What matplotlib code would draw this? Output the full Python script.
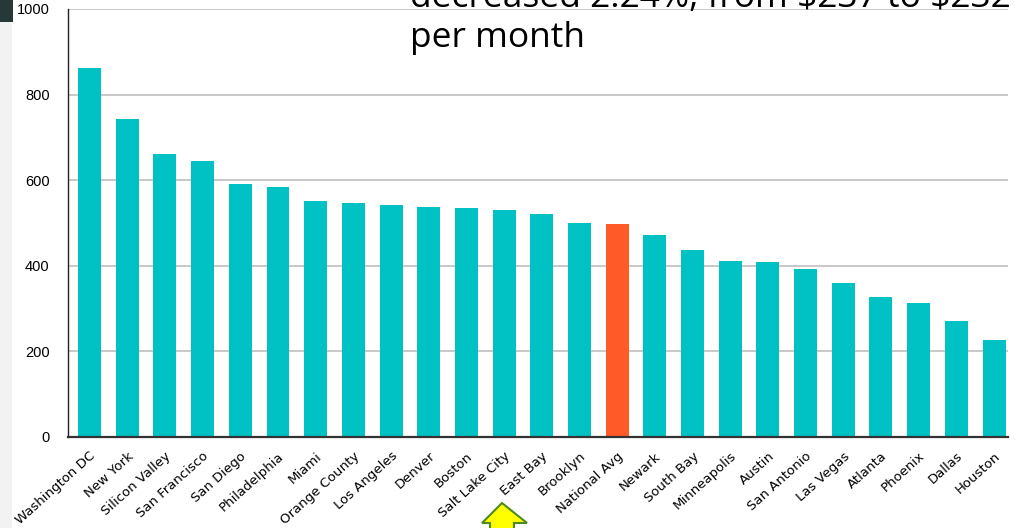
import matplotlib.pyplot as plt
from matplotlib.patches import Polygon, Rectangle

# rent by metro area
cities = ["Washington DC", "New York", "Silicon Valley", "San Francisco", "San Diego",
          "Philadelphia", "Miami", "Orange County", "Los Angeles", "Denver", "Boston",
          "Salt Lake City", "East Bay", "Brooklyn", "National Avg", "Newark", "South Bay",
          "Minneapolis", "Austin", "San Antonio", "Las Vegas", "Atlanta", "Phoenix",
          "Dallas", "Houston"]
values = [862, 742, 662, 646, 590, 584, 551, 546, 543, 538, 534, 530, 522, 501, 497,
          471, 438, 412, 410, 393, 360, 326, 314, 272, 227]
y_ticks = [0, 200, 400, 600, 800, 1000]

teal = "#00C1C3"
orange = "#FF5A27"
colors = [orange if c == "National Avg" else teal for c in cities]

W, H = 1015, 528
fig = plt.figure(figsize=(W / 100, H / 100), dpi=100)
ax = fig.add_axes([67.7 / W, 1 - 437 / H, (1008 - 67.7) / W, (437 - 9) / H])

x = range(len(cities))
ax.bar(x, values, width=0.61, color=colors, zorder=3)

ax.set_ylim(0, 1000)
ax.set_xlim(-0.58, len(cities) - 0.63)
ax.set_yticks(y_ticks)
ax.set_yticklabels([str(t) for t in y_ticks], fontsize=10.5, family="Liberation Sans")
ax.tick_params(axis="y", length=0, pad=13)
ax.set_xticks(list(x))
ax.set_xticklabels(cities, rotation=42, ha="right", rotation_mode="anchor",
                   fontsize=9.5, family="DejaVu Sans")
ax.tick_params(axis="x", length=0, pad=9)

ax.grid(axis="y", color="#c8c8c8", linewidth=1.4, zorder=0)
for s in ["top", "right"]:
    ax.spines[s].set_visible(False)
ax.spines["left"].set_color("#222222")
ax.spines["left"].set_linewidth(1.0)
ax.spines["bottom"].set_color("#333333")
ax.spines["bottom"].set_linewidth(1.6)
ax.spines["bottom"].set_zorder(4)

# slide text overlapping the chart (first line is cut off at the top, as in the source)
fig.text(410 / W, 1 - 7 / H, "decreased 2.24%, from \\$237 to \\$232", fontsize=25.5,
         family="Open Sans", va="baseline", ha="left")
fig.text(410 / W, 1 - 47 / H, "per month", fontsize=25.5,
         family="Open Sans", va="baseline", ha="left")

# slide decorations: dark corner tab, faint strip, arrow
fig.patches.append(Rectangle((0, 1 - 22 / H), 13 / W, 22 / H, transform=fig.transFigure,
                             facecolor="#263838", edgecolor="none"))
fig.patches.append(Rectangle((0, 0), 12 / W, 1 - 22 / H, transform=fig.transFigure,
                             facecolor="#f2f2f2", edgecolor="none"))
arrow_px = [(502, 503), (482, 523), (490, 523), (490, 530), (514, 530), (514, 523), (527, 523)]
fig.patches.append(Polygon([(px / W, 1 - py / H) for px, py in arrow_px], closed=True,
                           transform=fig.transFigure, facecolor="#FFFF00",
                           edgecolor="#4E8A1E", linewidth=1.5))

fig.savefig("out.png", dpi=100)
